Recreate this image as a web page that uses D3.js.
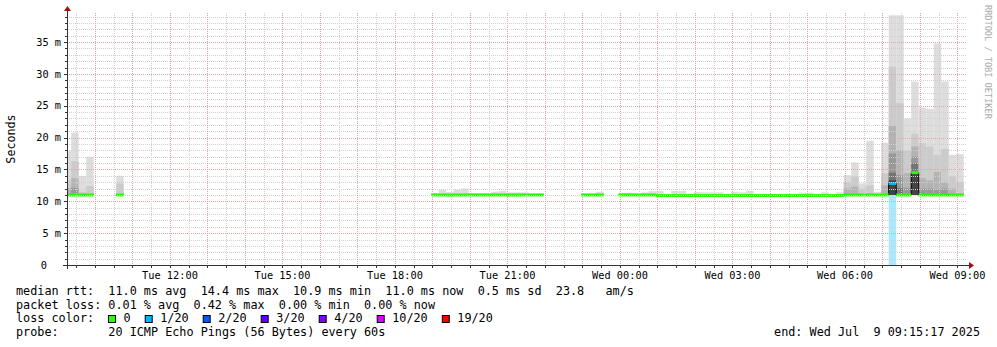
<!DOCTYPE html>
<html>
<head>
<meta charset="utf-8">
<script src="https://cdn.jsdelivr.net/npm/d3@7"></script>
<style>
  body { margin: 0; background: #fff; }
  svg { display: block; }
  text { font-family: "DejaVu Sans Mono", monospace; white-space: pre; }
</style>
</head>
<body>
<svg id="chart" width="997" height="347"></svg>
<script>
// 12 minute slots, counted from Tue 09:10
const slots = [0, 1, 2, 3, 7,
  49, 50, 51, 52, 53, 54, 55, 56, 57, 58, 59, 60, 61, 62, 63,
  69, 70, 71,
  74, 75, 76, 77, 78, 79, 80, 81, 82, 83, 84, 85, 86, 87, 88, 89, 90, 91, 92, 93, 94, 95, 96, 97, 98, 99, 100, 101, 102, 103,
  104, 105, 106, 107, 108, 109, 110, 111, 112, 113, 114, 115, 116, 117, 118, 119];

const median = [11.0, 11.0, 11.0, 11.0, 11.0,
  11.0, 11.0, 11.0, 11.0, 11.0, 11.0, 11.0, 11.0, 11.0, 11.0, 11.0, 11.0, 11.0, 11.0, 11.0,
  11.0, 11.0, 11.0,
  11.0, 11.0, 11.0, 11.0, 11.0, 10.9, 10.9, 10.9, 10.9, 10.9, 10.9, 10.9, 10.9, 10.9, 10.9, 10.9, 10.9, 10.9, 10.9, 10.9, 10.9, 10.9, 10.9, 10.9, 10.9, 10.9, 10.9, 10.9, 10.9, 10.9,
  11.0, 11.0, 11.0, 11.0, 11.0, 11.0, 12.8, 11.0, 11.0, 14.5, 11.0, 11.0, 11.0, 11.0, 11.0, 11.0];

// index into lossColors
const lossIdx = [0, 0, 0, 0, 0,
  0, 0, 0, 0, 0, 0, 0, 0, 0, 0, 0, 0, 0, 0, 0,
  0, 0, 0,
  0, 0, 0, 0, 0, 0, 0, 0, 0, 0, 0, 0, 0, 0, 0, 0, 0, 0, 0, 0, 0, 0, 0, 0, 0, 0, 0, 0, 0, 0,
  0, 0, 0, 0, 0, 0, 1, 0, 0, 0, 0, 0, 0, 0, 0, 0];

const smokeLow = [10.9, 10.9, 10.9, 10.9, 10.9,
  10.9, 10.9, 10.6, 10.9, 10.9, 10.9, 10.9, 10.9, 10.9, 10.9, 10.65, 10.65, 10.9, 10.9, 10.9,
  10.9, 10.9, 10.9,
  10.9, 10.9, 10.9, 10.9, 10.9, 10.9, 10.9, 10.9, 10.9, 10.7, 10.7, 10.9, 10.9, 10.9, 10.9, 10.9, 10.9, 10.9, 10.9, 10.9, 10.9, 10.9, 10.9, 10.9, 10.9, 10.9, 10.9, 10.9, 10.9, 10.9,
  10.9, 10.9, 10.9, 10.9, 10.9, 10.9, 11.0, 10.9, 10.9, 11.0, 10.9, 10.9, 10.9, 10.9, 10.9, 10.9];

// upper edge of each smoke band, outer (light) to inner (dark)
const smokeBands = [
  [17.9, 13.3, 12.1], [20.8, 16.3, 13.6, 12.1], [14.0, 11.5], [17.0, 12.4], [14.0, 12.8],
  [11.25], [11.8], [11.45], [11.8], [12.0], [11.25], [11.25], [11.25], [11.5], [11.65], [11.4], [11.4], [11.4], [11.2], [11.2],
  [11.2], [11.2], [11.5],
  [11.35], [11.35], [11.1], [11.4], [11.6], [11.6], [11.1], [11.65], [11.65], [11.2], [11.45], [11.4], [11.4], [11.4], [11.15],
  [11.5], [11.4], [11.65], [11.15], [11.15], [11.15], [11.15], [11.15], [11.15], [11.35], [11.35], [11.15], [11.4], [11.15], [11.4],
  [14.1, 13.0, 12.0], [16.1, 13.9, 12.3], [12.8, 12.0], [19.5, 12.5], [11.5], [19.2, 14.4, 12.5],
  [39.2, 31.1, 21.8, 17.5, 14.5, 13.3], [39.2, 25.4, 18.0, 14.1, 12.1], [23.0, 18.0, 14.4, 12.1],
  [28.8, 20.6, 18.6, 17.0, 16.0, 14.5], [24.7, 19.1, 13.6, 12.0], [24.5, 18.6, 13.3, 12.0],
  [34.8, 17.3, 14.6, 11.8], [28.8, 18.2, 13.0, 12.0], [17.3, 14.0, 12.0], [17.4, 13.0]];

const lossLabels = ['0', '1/20', '2/20', '3/20', '4/20', '10/20', '19/20'];
const lossColors = ['#26ff00', '#00b8ff', '#0059ff', '#5e00ff', '#7e00ff', '#dd00ff', '#ff0000'];
const yTicks = [0, 5, 10, 15, 20, 25, 30, 35];

const legendLines = [
  'median rtt:  11.0 ms avg  14.4 ms max  10.9 ms min  11.0 ms now  0.5 ms sd  23.8   am/s',
  'packet loss: 0.01 % avg  0.42 % max  0.00 % min  0.00 % now',
  'loss color:',
  'probe:       20 ICMP Echo Pings (56 Bytes) every 60s'
];
const endLabel = 'end: Wed Jul  9 09:15:17 2025';

const bandColors = ['#dddddd', '#cbcbcb', '#b3b3b3', '#989898', '#747474', '#444444'];
const slotBase = new Date(2025, 6, 8, 9, 10, 0);
const slotMs = 12 * 60 * 1000;
const start = new Date(2025, 6, 8, 9, 15, 17);
const end = new Date(2025, 6, 9, 9, 15, 17);

const svg = d3.select('#chart');
const pl = 67, pr = 967, pt = 13, pb = 265;

const x = d3.scaleTime().domain([start, end]).range([pl, pr]);
const y = d3.scaleLinear().domain([0, 39.56]).range([pb, pt]);

svg.append('rect').attr('width', 997).attr('height', 347).attr('fill', '#fff');
svg.append('defs').append('clipPath').attr('id', 'plot')
  .append('rect').attr('x', pl).attr('y', pt).attr('width', pr - pl).attr('height', pb - pt);

const data = slots.map((s, i) => ({
  slot: s,
  t0: new Date(+slotBase + s * slotMs),
  t1: new Date(+slotBase + (s + 1) * slotMs),
  med: median[i],
  loss: lossIdx[i],
  low: smokeLow[i],
  bands: smokeBands[i]
}));

const g = svg.append('g').attr('clip-path', 'url(#plot)');

// loss background
g.selectAll('.lossbg')
  .data(data.filter(d => d.loss > 0))
  .enter().append('rect')
  .attr('x', d => x(d.t0))
  .attr('width', d => x(d.t1) - x(d.t0))
  .attr('y', d => y(d.low))
  .attr('height', d => y(0) - y(d.low))
  .attr('fill', d => d3.interpolateRgb('#ffffff', lossColors[d.loss])(0.33));

// smoke
data.forEach(d => {
  d.bands.forEach((v, k) => {
    g.append('rect')
      .attr('x', x(d.t0))
      .attr('width', x(d.t1) - x(d.t0))
      .attr('y', y(v))
      .attr('height', y(d.low) - y(v))
      .attr('fill', bandColors[k]);
  });
});

// grid
const grid = svg.append('g');
d3.range(1, 40).forEach(v => {
  grid.append('line')
    .attr('x1', pl).attr('x2', pr)
    .attr('y1', Math.round(y(v)) + 0.5).attr('y2', Math.round(y(v)) + 0.5)
    .attr('stroke', v % 5 === 0 ? '#e4a4a4' : '#cfcfcf')
    .attr('stroke-dasharray', '1,1');
});
d3.timeMinute.every(30).range(start, end).forEach(t => {
  const major = t.getMinutes() === 0;
  grid.append('line')
    .attr('x1', Math.round(x(t)) + 0.5).attr('x2', Math.round(x(t)) + 0.5)
    .attr('y1', pt).attr('y2', pb)
    .attr('stroke', major ? '#e4a4a4' : '#cfcfcf')
    .attr('stroke-dasharray', '1,1');
});

// median: thin black step line under coloured segments
const blocks = [];
data.forEach((d, i) => {
  if (i > 0 && data[i - 1].slot === d.slot - 1) blocks[blocks.length - 1].push(d);
  else blocks.push([d]);
});
const step = d3.line().curve(d3.curveStepAfter).x(p => x(p[0])).y(p => y(p[1]));
blocks.forEach(b => {
  const pts = b.map(d => [d.t0, d.med]);
  pts.push([b[b.length - 1].t1, b[b.length - 1].med]);
  g.append('path').attr('d', step(pts)).attr('fill', 'none').attr('stroke', '#000').attr('stroke-width', 1);
});
g.selectAll('.med')
  .data(data)
  .enter().append('line')
  .attr('x1', d => x(d.t0)).attr('x2', d => x(d.t1))
  .attr('y1', d => y(d.med)).attr('y2', d => y(d.med))
  .attr('stroke', d => lossColors[d.loss])
  .attr('stroke-width', 3);

// axes
const axisColor = '#333';
svg.append('line').attr('x1', pl - 4).attr('x2', pr + 2).attr('y1', pb + 0.5).attr('y2', pb + 0.5)
  .attr('stroke', axisColor);
svg.append('line').attr('x1', pl + 0.5).attr('x2', pl + 0.5).attr('y1', pb + 4).attr('y2', pt - 2)
  .attr('stroke', axisColor);
svg.append('path').attr('d', `M${pr + 2},${pb - 3} L${pr + 7},${pb + 0.5} L${pr + 2},${pb + 4} Z`)
  .attr('fill', '#a01010');
svg.append('path').attr('d', `M${pl - 3},${pt - 2} L${pl + 0.5},${pt - 7} L${pl + 4},${pt - 2} Z`)
  .attr('fill', '#a01010');

d3.timeMinute.every(30).range(start, end).forEach(t => {
  svg.append('line')
    .attr('x1', Math.round(x(t)) + 0.5).attr('x2', Math.round(x(t)) + 0.5)
    .attr('y1', pb).attr('y2', pb + 3)
    .attr('stroke', axisColor);
});
d3.range(1, 40).forEach(v => {
  svg.append('line')
    .attr('x1', pl - (v % 5 === 0 ? 3 : 2)).attr('x2', pl)
    .attr('y1', Math.round(y(v)) + 0.5).attr('y2', Math.round(y(v)) + 0.5)
    .attr('stroke', axisColor);
});

const fs = '11.8px';
const axisFs = '10.3px';
const timeFmt = d3.timeFormat('%a %H:%M');
d3.timeHour.every(3).range(start, end).forEach(t => {
  svg.append('text')
    .attr('x', x(t)).attr('y', 278.5)
    .attr('text-anchor', 'middle')
    .attr('font-size', axisFs)
    .text(timeFmt(t));
});

yTicks.forEach(v => {
  svg.append('text')
    .attr('x', v === 0 ? 47 : 61).attr('y', y(v) + 3.7)
    .attr('text-anchor', 'end')
    .attr('font-size', axisFs)
    .text(v === 0 ? '0' : v + ' m');
});

svg.append('text')
  .attr('transform', 'translate(15,139) rotate(-90)')
  .attr('text-anchor', 'middle')
  .attr('font-size', '11.7px')
  .text('Seconds');

svg.append('text')
  .attr('transform', 'translate(985,5) rotate(90)')
  .attr('font-size', '8.6px')
  .attr('fill', '#aaaaaa')
  .text('RRDTOOL / TOBI OETIKER');

// legend
const baselines = [295, 308.7, 322.4, 336.1];
legendLines.forEach((s, i) => {
  svg.append('text')
    .attr('x', 16).attr('y', baselines[i])
    .attr('font-size', fs)
    .text(s);
});
const cw = 7.1;
let lx = 108;
lossLabels.forEach((lab, i) => {
  svg.append('rect')
    .attr('x', lx + 0.5).attr('y', 315.5)
    .attr('width', 7).attr('height', 7)
    .attr('fill', lossColors[i])
    .attr('stroke', '#000');
  svg.append('text')
    .attr('x', lx + 15.5).attr('y', baselines[2])
    .attr('font-size', fs)
    .text(lab);
  lx = lx + 29.6 + lab.length * cw;
});
svg.append('text')
  .attr('x', 980).attr('y', baselines[3])
  .attr('text-anchor', 'end')
  .attr('font-size', fs)
  .text(endLabel);
</script>
</body>
</html>
